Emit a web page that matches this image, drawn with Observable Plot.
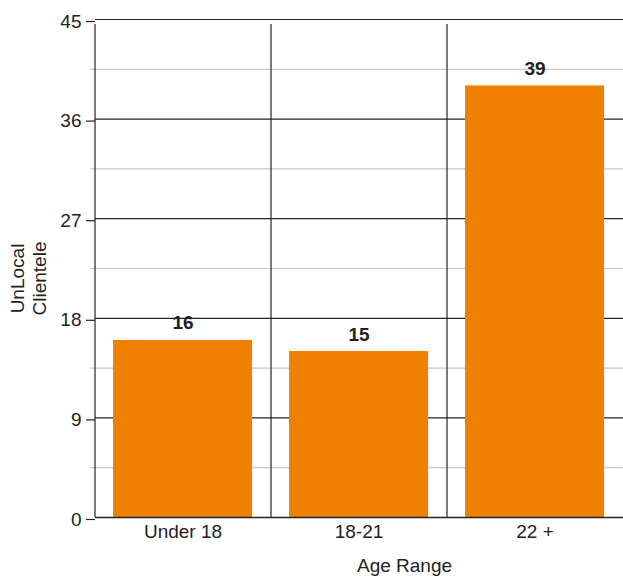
<!DOCTYPE html>
<html>
<head>
<meta charset="utf-8">
<script src="https://cdn.jsdelivr.net/npm/d3@7"></script>
<script src="https://cdn.jsdelivr.net/npm/@observablehq/plot@0.6"></script>
<style>
  html, body { margin: 0; padding: 0; background: #fff; }
  #chart svg { display: block; }
</style>
</head>
<body>
<div id="chart"></div>
<script>
const categories = ["Under 18", "18-21", "22 +"];
const values = [16, 15, 39];
const majorTicks = [0, 9, 18, 27, 36, 45];
const minorTicks = [4.5, 13.5, 22.5, 31.5, 40.5];
const yLabel = "UnLocal\nClientele";
const xLabel = "Age Range";

const data = categories.map((c, i) => ({category: c, value: values[i]}));

const W = 623, H = 576, ML = 95, MR = 0, MT = 19, MB = 59;
const half = (W - ML - MR) / categories.length / 2;
const font = "'Liberation Sans', Arial, sans-serif";
const FS = 19;

const chart = Plot.plot({
  width: W,
  height: H,
  marginLeft: ML,
  marginRight: MR,
  marginTop: MT,
  marginBottom: MB,
  style: {fontFamily: font, fontSize: FS + "px", color: "#222", background: "#fff"},
  x: {domain: categories, paddingInner: 0.21, paddingOuter: 0.105},
  y: {domain: [0, 45]},
  marks: [
    Plot.ruleY(minorTicks, {stroke: "#c8c8c8", strokeWidth: 1.2, insetLeft: -5}),
    Plot.ruleY(majorTicks.filter(d => d > 0), {stroke: "#222", strokeWidth: 1.2}),
    Plot.barY(data, {x: "category", y: "value", fill: "#f08000"}),
    Plot.ruleY([0], {stroke: "#222", strokeWidth: 1.5}),
    Plot.ruleX(categories, {x: d => d, dx: -half, y1: 0, y2: 45, insetBottom: -5, stroke: "#222", strokeWidth: 1.2}),
    Plot.axisY({ticks: majorTicks, tickSize: 9, tickPadding: 5, dy: 2, label: null, fontSize: FS, stroke: "#222", strokeWidth: 1.2, fill: "#222"}),
    Plot.axisX({tickSize: 0, tickPadding: 6.5, label: null, fontSize: FS, fill: "#222"}),
    Plot.text(data, {x: "category", y: "value", text: d => String(d.value), lineAnchor: "bottom", dy: -11, fontWeight: "bold", fontSize: FS, fill: "#222"}),
    Plot.text([yLabel], {frameAnchor: "left", textAnchor: "middle", rotate: -90, dx: -68, dy: 10, lineAnchor: "middle", lineHeight: 1.17, fontSize: FS, fill: "#222"}),
    Plot.text([xLabel], {frameAnchor: "bottom", textAnchor: "middle", dx: 45, dy: 40.5, lineAnchor: "top", fontSize: FS, fill: "#222"})
  ]
});

document.getElementById("chart").appendChild(chart);
</script>
</body>
</html>
